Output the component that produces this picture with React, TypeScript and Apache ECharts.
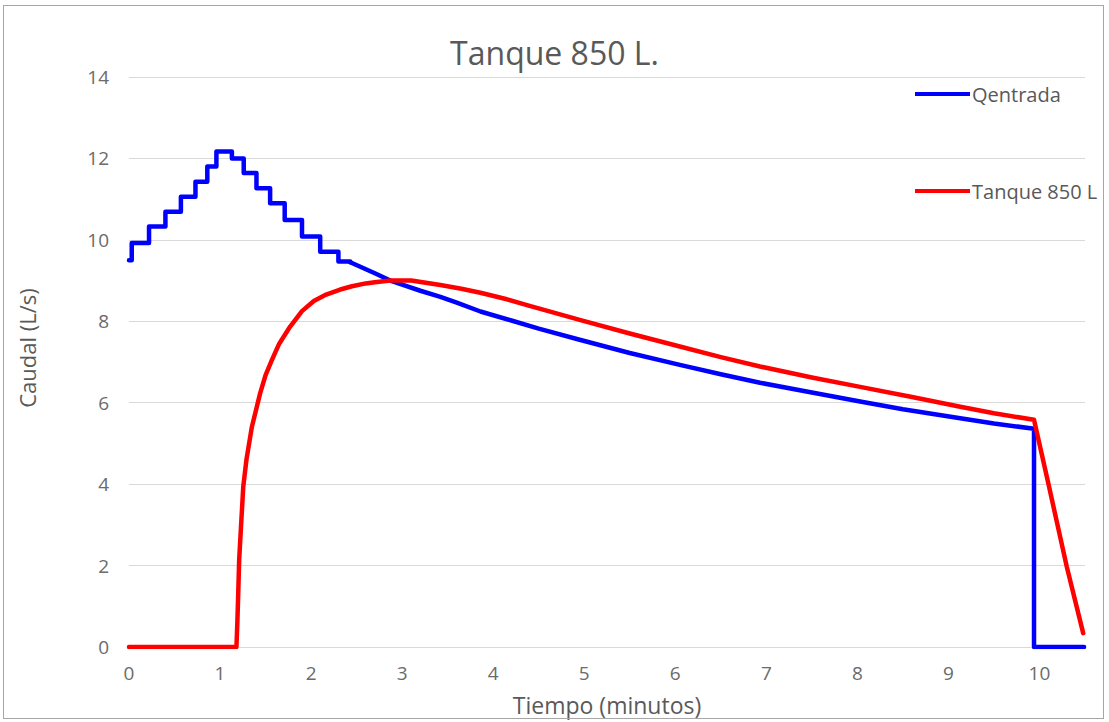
import React, { useEffect, useRef } from "react";
import * as echarts from "echarts";

// Qentrada – stepped part (time in minutes, flow in L/s)
const qStepTime = [0, 0.03, 0.22, 0.4, 0.57, 0.73, 0.86, 0.96, 1.13, 1.26, 1.4, 1.55, 1.71, 1.9, 2.1, 2.3, 2.43];
const qStepFlow = [9.5, 9.92, 10.33, 10.69, 11.06, 11.43, 11.8, 12.17, 12.0, 11.64, 11.27, 10.9, 10.49, 10.08, 9.71, 9.47, 9.45];

// Qentrada – smooth recession part
const qTime = [2.43, 2.7, 2.87, 3.0, 3.2, 3.42, 3.6, 3.86, 4.2, 4.5, 4.96, 5.5, 6.05, 6.5, 6.93, 7.5, 8.03, 8.5, 9.13, 9.5, 9.94, 9.94, 10.49];
const qFlow = [9.45, 9.18, 9.0, 8.9, 8.75, 8.6, 8.46, 8.24, 8.02, 7.82, 7.54, 7.22, 6.93, 6.7, 6.49, 6.25, 6.03, 5.84, 5.62, 5.49, 5.36, 0, 0];

// Tanque 850 L outflow
const tTime = [0, 1.18, 1.19, 1.2, 1.21, 1.23, 1.255, 1.29, 1.35, 1.44, 1.5, 1.57, 1.65, 1.77, 1.9, 2.03, 2.15, 2.32, 2.45, 2.6, 2.7, 2.87, 3.1, 3.42, 3.65, 3.86, 4.15, 4.4, 4.96, 5.5, 6.05, 6.5, 6.93, 7.5, 8.03, 8.6, 9.13, 9.5, 9.94, 10.1, 10.3, 10.48];
const tFlow = [0, 0, 0.6, 1.33, 2.14, 2.95, 3.94, 4.6, 5.41, 6.23, 6.68, 7.05, 7.45, 7.87, 8.25, 8.5, 8.64, 8.78, 8.86, 8.93, 8.96, 9.0, 9.0, 8.89, 8.8, 8.7, 8.54, 8.38, 8.03, 7.7, 7.38, 7.12, 6.89, 6.62, 6.39, 6.14, 5.9, 5.74, 5.58, 3.99, 1.97, 0.34];

const yTicks = { min: 0, max: 14, interval: 2 };
const xTicks = { min: 0, max: 10.5, interval: 1 };

const FONT = "Open Sans";
const BLUE = "#0000FF";
const RED = "#FF0000";
const LW = 4.5;

function zip(a: number[], b: number[]) {
  return a.map((v, i) => [v, b[i]]);
}

export default function App() {
  const ref = useRef<HTMLDivElement>(null);
  useEffect(() => {
    if (!ref.current) return;
    const chart = echarts.init(ref.current, undefined, { renderer: "svg" });
    const legendText = { fontFamily: FONT, fontSize: 20, color: "#595959", padding: [0, 0, 0, -3] };
    chart.setOption({
      animation: false,
      backgroundColor: "#ffffff",
      title: {
        text: "Tanque 850 L.",
        left: "center",
        top: 31,
        textStyle: { fontFamily: FONT, fontSize: 32, fontWeight: "normal", color: "#595959" },
      },
      legend: [
        {
          data: ["Qentrada"],
          left: 910,
          top: 79,
          itemWidth: 55,
          itemHeight: 4,
          icon: "rect",
          itemGap: 0,
          textStyle: legendText,
        },
        {
          data: ["Tanque 850 L"],
          left: 910,
          top: 176,
          itemWidth: 55,
          itemHeight: 4,
          icon: "rect",
          itemGap: 0,
          textStyle: legendText,
        },
      ],
      grid: { left: 129, right: 24, top: 77, bottom: 75, containLabel: false, outerBoundsMode: "none" },
      graphic: [
        {
          type: "text",
          x: 27,
          y: 348,
          rotation: Math.PI / 2,
          style: {
            text: "Caudal (L/s)",
            fontFamily: FONT,
            fontSize: 22,
            fill: "#595959",
            textAlign: "center",
            textVerticalAlign: "middle",
          },
        },
      ],
      xAxis: {
        type: "value",
        min: xTicks.min,
        max: xTicks.max,
        interval: xTicks.interval,
        name: "Tiempo (minutos)",
        nameLocation: "middle",
        nameGap: 46,
        nameTextStyle: { fontFamily: FONT, fontSize: 23, color: "#595959" },
        axisLine: { show: true, lineStyle: { color: "#D9D9D9", width: 1 } },
        axisTick: { show: false },
        splitLine: { show: false },
        axisLabel: {
          fontFamily: FONT,
          fontSize: 19,
          color: "#6b6b6b",
          margin: 16,
          showMaxLabel: false,
          formatter: (v: number) => (Number.isInteger(v) ? String(v) : ""),
        },
      },
      yAxis: {
        type: "value",
        min: yTicks.min,
        max: yTicks.max,
        interval: yTicks.interval,
        axisLine: { show: false },
        axisTick: { show: false },
        splitLine: { show: true, lineStyle: { color: "#D9D9D9", width: 1 } },
        axisLabel: { fontFamily: FONT, fontSize: 19, color: "#6b6b6b", margin: 20 },
      },
      series: [
        {
          name: "Qentrada",
          type: "line",
          step: "end",
          data: zip(qStepTime, qStepFlow),
          showSymbol: false,
          symbol: "none",
          color: BLUE,
          lineStyle: { color: BLUE, width: LW, join: "round", cap: "round" },
          z: 2,
        },
        {
          name: "Qentrada",
          type: "line",
          data: zip(qTime, qFlow),
          showSymbol: false,
          symbol: "none",
          color: BLUE,
          lineStyle: { color: BLUE, width: LW, join: "round", cap: "round" },
          z: 2,
        },
        {
          name: "Tanque 850 L",
          type: "line",
          data: zip(tTime, tFlow),
          showSymbol: false,
          symbol: "none",
          color: RED,
          lineStyle: { color: RED, width: LW, join: "round", cap: "round" },
          z: 3,
        },
      ],
    });
    return () => chart.dispose();
  }, []);
  return (
    <div
      style={{
        position: "fixed",
        left: 0,
        top: 0,
        width: 1109,
        height: 722,
        background: "#ffffff",
      }}
    >
      <div ref={ref} style={{ position: "absolute", left: 0, top: 0, width: 1109, height: 722 }} />
      <div
        style={{
          position: "absolute",
          left: 3,
          top: 5,
          width: 1101,
          height: 714,
          border: "1px solid #A6A6A6",
          boxSizing: "border-box",
          pointerEvents: "none",
        }}
      />
    </div>
  );
}
